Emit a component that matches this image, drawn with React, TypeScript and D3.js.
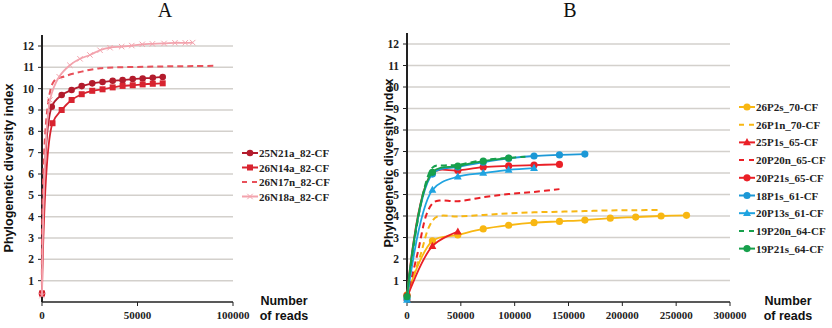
import React from "react";
import * as d3 from "d3";

// ---------- Panel A data ----------
const a25N21aReads = [0, 5100, 10300, 15500, 20800, 26300, 31700, 37000, 42200, 47500, 52700, 58000, 63200];
const a25N21aPD = [0.4, 9.15, 9.7, 9.94, 10.12, 10.25, 10.31, 10.37, 10.4, 10.45, 10.48, 10.51, 10.55];
const a26N14aReads = [0, 5500, 10300, 15500, 20800, 26300, 31700, 37000, 42200, 47500, 52700, 58000, 63200];
const a26N14aPD = [0.4, 8.38, 9.0, 9.47, 9.74, 9.9, 9.97, 10.06, 10.13, 10.16, 10.2, 10.23, 10.25];
const a26N17nReads = [0, 5900, 12000, 20800, 30400, 40000, 50000, 60000, 70000, 80000, 89700];
const a26N17nPD = [0.35, 10.3, 10.58, 10.8, 10.96, 11.0, 11.02, 11.04, 11.05, 11.06, 11.07];
const a26N18aReads = [0, 4200, 9000, 14600, 19900, 25100, 30400, 35600, 41700, 47000, 52500, 57800, 63900, 69600, 75000, 78900];
const a26N18aPD = [0.3, 9.47, 10.56, 11.1, 11.4, 11.58, 11.8, 11.92, 11.97, 12.02, 12.08, 12.1, 12.12, 12.15, 12.15, 12.16];

const aXTicks = [0, 50000, 100000];
const yTicks = [1, 2, 3, 4, 5, 6, 7, 8, 9, 10, 11, 12];

// ---------- Panel B data ----------
const b26P2sReads = [0, 23600, 47200, 70800, 94400, 118000, 141600, 165200, 188800, 212400, 236000, 259600];
const b26P2sPD = [0.33, 2.84, 3.12, 3.4, 3.57, 3.69, 3.75, 3.81, 3.9, 3.95, 4.0, 4.03];
const b26P1nReads = [0, 12000, 21000, 28000, 47200, 70800, 94400, 118000, 141600, 165200, 188800, 212400, 236000];
const b26P1nPD = [0.3, 2.1, 3.55, 3.97, 3.98, 4.05, 4.12, 4.17, 4.2, 4.23, 4.26, 4.27, 4.28];
const b25P1sReads = [0, 23600, 47200];
const b25P1sPD = [0.2, 2.6, 3.27];
const b20P20nReads = [0, 10000, 18300, 24400, 30000, 47200, 70800, 94400, 118000, 141600];
const b20P20nPD = [0.25, 2.3, 4.1, 4.62, 4.72, 4.69, 4.87, 5.02, 5.12, 5.25];
const b20P21sReads = [0, 23600, 47200, 70800, 94400, 118000, 141600];
const b20P21sPD = [0.3, 6.0, 6.12, 6.27, 6.33, 6.37, 6.4];
const b18P1sReads = [0, 23600, 47200, 70800, 94400, 118000, 141600, 165200];
const b18P1sPD = [0.15, 5.95, 6.28, 6.5, 6.68, 6.79, 6.84, 6.88];
const b20P13sReads = [0, 23600, 47200, 70800, 94400, 118000];
const b20P13sPD = [0.1, 5.21, 5.83, 6.0, 6.15, 6.23];
const b19P20nReads = [0, 23600, 35000, 47200, 70800, 94400, 110000];
const b19P20nPD = [0.3, 6.25, 6.35, 6.38, 6.6, 6.7, 6.76];
const b19P21sReads = [0, 23600, 47200, 70800, 94400];
const b19P21sPD = [0.25, 6.03, 6.32, 6.55, 6.7];

const bXTicks = [0, 50000, 100000, 150000, 200000, 250000, 300000];

type Marker = "circle" | "square" | "triangle" | "cross" | "none";
interface Series {
  name: string;
  reads: number[];
  pd: number[];
  color: string;
  dashed: boolean;
  marker: Marker;
}

const seriesA: Series[] = [
  { name: "25N21a_82-CF", reads: a25N21aReads, pd: a25N21aPD, color: "#b31b2c", dashed: false, marker: "circle" },
  { name: "26N14a_82-CF", reads: a26N14aReads, pd: a26N14aPD, color: "#d8232f", dashed: false, marker: "square" },
  { name: "26N17n_82-CF", reads: a26N17nReads, pd: a26N17nPD, color: "#e8505a", dashed: true, marker: "none" },
  { name: "26N18a_82-CF", reads: a26N18aReads, pd: a26N18aPD, color: "#f3a3ad", dashed: false, marker: "cross" },
];

const seriesB: Series[] = [
  { name: "26P2s_70-CF", reads: b26P2sReads, pd: b26P2sPD, color: "#f8b712", dashed: false, marker: "circle" },
  { name: "26P1n_70-CF", reads: b26P1nReads, pd: b26P1nPD, color: "#f8b712", dashed: true, marker: "none" },
  { name: "25P1s_65-CF", reads: b25P1sReads, pd: b25P1sPD, color: "#ea2027", dashed: false, marker: "triangle" },
  { name: "20P20n_65-CF", reads: b20P20nReads, pd: b20P20nPD, color: "#ea2027", dashed: true, marker: "none" },
  { name: "20P21s_65-CF", reads: b20P21sReads, pd: b20P21sPD, color: "#ea2027", dashed: false, marker: "circle" },
  { name: "18P1s_61-CF", reads: b18P1sReads, pd: b18P1sPD, color: "#1c98d6", dashed: false, marker: "circle" },
  { name: "20P13s_61-CF", reads: b20P13sReads, pd: b20P13sPD, color: "#1fa3e0", dashed: false, marker: "triangle" },
  { name: "19P20n_64-CF", reads: b19P20nReads, pd: b19P20nPD, color: "#17a04c", dashed: true, marker: "none" },
  { name: "19P21s_64-CF", reads: b19P21sReads, pd: b19P21sPD, color: "#17a04c", dashed: false, marker: "circle" },
];

const SERIF = "'Liberation Serif', 'Times New Roman', serif";
const SANS = "'Liberation Sans', Arial, sans-serif";

function MarkerShape({ type, x, y, color, size }: { type: Marker; x: number; y: number; color: string; size: number }) {
  if (type === "circle") return <circle cx={x} cy={y} r={size * 0.55} fill={color} />;
  if (type === "square") return <rect x={x - size / 2} y={y - size / 2} width={size} height={size} fill={color} />;
  if (type === "triangle") {
    const s = size * 1.1;
    return <path d={`M${x},${y - s * 0.6}L${x + s * 0.55},${y + s * 0.4}L${x - s * 0.55},${y + s * 0.4}Z`} fill={color} />;
  }
  if (type === "cross") {
    const s = size * 0.45;
    return (
      <path d={`M${x - s},${y - s}L${x + s},${y + s}M${x - s},${y + s}L${x + s},${y - s}`} stroke={color} strokeWidth={1} />
    );
  }
  return null;
}

interface PanelProps {
  title: string;
  titleX: number;
  series: Series[];
  xDomainMax: number;
  xRange: [number, number];
  yRange: [number, number];
  axisTop: number;
  xTicks: number[];
  yLabelX: number;
  yLabelY: number;
  readsLabelX: number;
  legendX: number;
  legendY: number;
  legendStep: number;
  markerSize: number;
}

function Panel(p: PanelProps) {
  const x = d3.scaleLinear().domain([0, p.xDomainMax]).range(p.xRange);
  const y = d3.scaleLinear().domain([0, 12]).range(p.yRange);
  const line = d3
    .line<[number, number]>()
    .x((d) => x(d[0]))
    .y((d) => y(d[1]))
    .curve(d3.curveCatmullRom.alpha(0.5));
  const x0 = p.xRange[0];
  const x1 = p.xRange[1];
  const y0 = p.yRange[0];
  return (
    <g>
      <text x={p.titleX} y={17} textAnchor="middle" fontFamily={SERIF} fontSize={20} fill="#111">
        {p.title}
      </text>
      {yTicks.map((t) => (
        <line key={"g" + t} x1={x0} x2={x1} y1={y(t)} y2={y(t)} stroke="#d3d0cc" strokeWidth={1.5} />
      ))}
      {yTicks.map((t) => (
        <g key={"yt" + t}>
          <line x1={x0 - 4} x2={x0} y1={y(t)} y2={y(t)} stroke="#222" strokeWidth={1} />
          <text x={x0 - 8} y={y(t) + 4} textAnchor="end" fontFamily={SERIF} fontWeight="bold" fontSize={11.5} fill="#222">
            {t}
          </text>
        </g>
      ))}
      <line x1={x0} x2={x0} y1={p.axisTop} y2={y0} stroke="#222" strokeWidth={2} />
      <line x1={x0} x2={x1} y1={y0} y2={y0} stroke="#222" strokeWidth={1.5} />
      {p.xTicks.map((t) => (
        <g key={"xt" + t}>
          <line x1={x(t)} x2={x(t)} y1={y0} y2={y0 + 4} stroke="#222" strokeWidth={1} />
          <text x={x(t)} y={319} textAnchor="middle" fontFamily={SERIF} fontWeight="bold" fontSize={11} fill="#222">
            {t}
          </text>
        </g>
      ))}
      <text
        transform={`translate(${p.yLabelX},${p.yLabelY}) rotate(-90)`}
        textAnchor="middle"
        fontFamily={SANS}
        fontWeight="bold"
        fontSize={12.5}
        fill="#111"
      >
        Phylogenetic diversity index
      </text>
      <text x={p.readsLabelX} y={305} textAnchor="middle" fontFamily={SANS} fontWeight="bold" fontSize={12.5} fill="#111">
        Number
      </text>
      <text x={p.readsLabelX} y={320} textAnchor="middle" fontFamily={SANS} fontWeight="bold" fontSize={12.5} fill="#111">
        of reads
      </text>
      {p.series.map((s) => {
        const pts: [number, number][] = s.reads.map((r, i) => [r, s.pd[i]]);
        return (
          <g key={s.name}>
            <path
              d={line(pts) || ""}
              fill="none"
              stroke={s.color}
              strokeWidth={s.dashed ? 2 : 1.8}
              strokeDasharray={s.dashed ? "6,4" : undefined}
            />
            {s.marker !== "none" &&
              pts.map((d, i) => (
                <MarkerShape key={i} type={s.marker} x={x(d[0])} y={y(d[1])} color={s.color} size={p.markerSize} />
              ))}
          </g>
        );
      })}
      {p.series.map((s, i) => {
        const ly = p.legendY + i * p.legendStep;
        return (
          <g key={"lg" + s.name}>
            <line
              x1={p.legendX}
              x2={p.legendX + 16}
              y1={ly}
              y2={ly}
              stroke={s.color}
              strokeWidth={2}
              strokeDasharray={s.dashed ? "5,5" : undefined}
            />
            {s.marker !== "none" && (
              <MarkerShape type={s.marker} x={p.legendX + 8} y={ly} color={s.color} size={p.markerSize} />
            )}
            <text x={p.legendX + 17} y={ly + 4} fontFamily={SERIF} fontWeight="bold" fontSize={11} fill="#222">
              {s.name}
            </text>
          </g>
        );
      })}
    </g>
  );
}

export default function App() {
  return (
    <svg
      width={832}
      height={328}
      style={{ position: "absolute", left: 0, top: 0, background: "#fff" }}
      xmlns="http://www.w3.org/2000/svg"
    >
      <rect width={832} height={328} fill="#fff" />
      <Panel
        title="A"
        titleX={165}
        series={seriesA}
        xDomainMax={100000}
        xRange={[42, 233]}
        yRange={[302, 46]}
        axisTop={35}
        xTicks={aXTicks}
        yLabelX={13}
        yLabelY={168}
        readsLabelX={284}
        legendX={242}
        legendY={153}
        legendStep={14.5}
        markerSize={6}
      />
      <Panel
        title="B"
        titleX={570}
        series={seriesB}
        xDomainMax={300000}
        xRange={[407, 730]}
        yRange={[302, 44]}
        axisTop={33}
        xTicks={bXTicks}
        yLabelX={393}
        yLabelY={163}
        readsLabelX={788}
        legendX={739}
        legendY={107}
        legendStep={17.7}
        markerSize={6.5}
      />
    </svg>
  );
}
